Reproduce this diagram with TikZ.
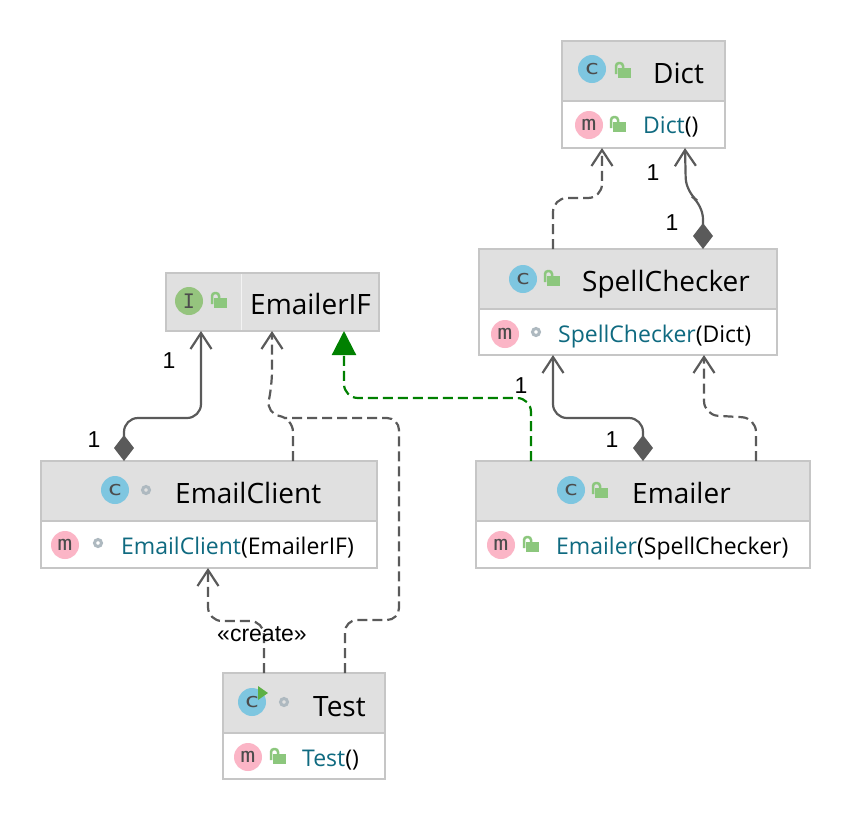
\documentclass[tikz,border=0pt]{standalone}
\usepackage{fontspec}
\usepackage{graphicx}
\setmainfont{Open Sans}
\newfontfamily\labelfont{Liberation Sans}
\newfontfamily\iconfont{DejaVu Sans Mono}
\usetikzlibrary{arrows.meta}
\definecolor{headgray}{HTML}{E0E0E0}
\definecolor{bordergray}{HTML}{C6C6C6}
\definecolor{linegray}{HTML}{5A5A5A}
\definecolor{methodteal}{HTML}{0F6A80}
\definecolor{iconblue}{HTML}{7EC6E0}
\definecolor{iconpink}{HTML}{FBB5C6}
\definecolor{icongreen}{HTML}{95C47E}
\definecolor{lockgreen}{HTML}{8CC77D}
\definecolor{ringgray}{HTML}{AEB9C0}
\definecolor{playgreen}{HTML}{5DB044}
\newcommand{\wideletter}[1]{\scalebox{1.25}[1]{#1}}
\tikzset{
  headbox/.style={draw=bordergray, line width=1.5pt, fill=headgray, anchor=north west, inner sep=0pt, outer sep=0pt},
  membox/.style={draw=bordergray, line width=1.5pt, fill=white, anchor=north west, inner sep=0pt, outer sep=0pt},
  title/.style={anchor=base west, inner sep=0pt, font=\fontsize{28}{30}\selectfont},
  method/.style={anchor=base west, inner sep=0pt, font=\fontsize{23}{26}\selectfont},
  tag/.style={inner sep=0pt, font=\labelfont\fontsize{23}{26}\selectfont},
  iconc/.style={circle, fill=iconblue, minimum size=28pt, inner sep=0pt, text=black!70, font=\iconfont\fontsize{20}{20}\selectfont},
  iconm/.style={iconc, fill=iconpink},
  iconi/.style={iconc, fill=icongreen},
  assoc/.style={linegray, line width=2.2pt, rounded corners=14pt, {Diamond[length=26pt,width=20pt]}-{Straight Barb[length=16pt,width=21pt,line width=2.2pt]}},
  dep/.style={linegray, line width=2.2pt, dash pattern=on 10pt off 5pt, rounded corners=14pt, -{Straight Barb[length=16pt,width=21pt,line width=2.2pt]}},
  impl/.style={green!50!black, line width=2.2pt, dash pattern=on 10pt off 5pt, rounded corners=14pt, -{Triangle[length=24pt,width=24pt]}},
  openlock/.pic={
    \fill[lockgreen] (-6,-3) rectangle (7,7);
    \draw[lockgreen, line width=2.5pt, rounded corners=3pt] (-8,3) -- (-8,-8) -- (-1,-8) -- (-1,-3);
  },
  pkgring/.pic={
    \draw[ringgray, line width=3pt] (0,0) circle (3.5pt);
  },
}
\begin{document}
\begin{tikzpicture}[x=1pt, y=-1pt]
    \useasboundingbox (0,0) rectangle (852,820);

    \node[headbox, minimum width=163pt, minimum height=60pt] (dict) at (562,41) {};
    \node[membox, minimum width=163pt, minimum height=47pt] (dictm) at (562,101) {};
    \node[headbox, minimum width=213pt, minimum height=58pt] (emailerif) at (166,273) {};
    \node[headbox, minimum width=298pt, minimum height=60pt] (spell) at (479,249) {};
    \node[membox, minimum width=298pt, minimum height=46pt] (spellm) at (479,309) {};
    \node[headbox, minimum width=336pt, minimum height=60pt] (client) at (41,461) {};
    \node[membox, minimum width=336pt, minimum height=47pt] (clientm) at (41,521) {};
    \node[headbox, minimum width=334pt, minimum height=60pt] (emailer) at (476,461) {};
    \node[membox, minimum width=334pt, minimum height=47pt] (emailerm) at (476,521) {};
    \node[headbox, minimum width=162pt, minimum height=60pt] (test) at (223,673) {};
    \node[membox, minimum width=162pt, minimum height=46pt] (testm) at (223,733) {};
    \draw[white!60!headgray, line width=0.8pt] (241,274) -- (241,330);

    \node[iconc] (dictc) at (592,69) {\wideletter{c}};
    \pic at (624,71) {openlock};
    \node[title] (dictt) at (653,83) {Dict};
    \node[iconm] (dictmi) at (589,125) {\wideletter{m}};
    \pic at (619,125) {openlock};
    \node[method] (dictmt) at (643,133) {\textcolor{methodteal}{Dict}()};

    \node[iconi] (ifc) at (189,301) {I};
    \pic at (220,301) {openlock};
    \node[title] (ift) at (250,314) {EmailerIF};

    \node[iconc] (spellc) at (523,279) {\wideletter{c}};
    \pic at (553,279) {openlock};
    \node[title] (spellt) at (582,291) {SpellChecker};
    \node[iconm] (spellmi) at (505,334) {\wideletter{m}};
    \pic at (536,332) {pkgring};
    \node[method] (spellmt) at (558,342) {\textcolor{methodteal}{SpellChecker}(Dict)};

    \node[iconc] (clientc) at (115,490) {\wideletter{c}};
    \pic at (146,490) {pkgring};
    \node[title] (clientt) at (175,503) {EmailClient};
    \node[iconm] (clientmi) at (65,545) {\wideletter{m}};
    \pic at (98,543) {pkgring};
    \node[method] (clientmt) at (121,554) {\textcolor{methodteal}{EmailClient}(EmailerIF)};

    \node[iconc] (emailerc) at (571,490) {\wideletter{c}};
    \pic at (601,491) {openlock};
    \node[title] (emailert) at (632,503) {Emailer};
    \node[iconm] (emailermi) at (501,545) {\wideletter{m}};
    \pic at (532,545) {openlock};
    \node[method] (emailermt) at (556,554) {\textcolor{methodteal}{Emailer}(SpellChecker)};

    \node[iconc] (testc) at (252,702) {\wideletter{c}};
    \fill[playgreen] (258,686) -- (268,693) -- (258,700) -- cycle;
    \pic at (284,702) {pkgring};
    \node[title] (testt) at (313,716) {Test};
    \node[iconm] (testmi) at (248,757) {\wideletter{m}};
    \pic at (279,757) {openlock};
    \node[method] (testmt) at (302,766) {\textcolor{methodteal}{Test}()};

    \draw[dep] ([xshift=74pt]spell.north west) -- (553,198) -- (602,198) -- ([xshift=40pt]dictm.south west);
    \draw[assoc] ([xshift=141pt]dict.south west |- spell.north) -- (703,205) -- (686,192) -- ([xshift=123pt]dictm.south west);
    \draw[assoc] ([xshift=83pt]client.north west) -- (124,418) -- (201,418) -- ([xshift=35pt]emailerif.south west);
    \draw[dep] ([xshift=252pt]client.north west) -- (293,418) -- (266,414) -- (272,385) -- ([xshift=106pt]emailerif.south west);
    \draw[dep, -, rounded corners=12pt] ([xshift=122pt]test.north west) -- (345,620) -- (399,620) -- (399,418) -- (285,418);
    \draw[dep] ([xshift=41pt]test.north west) -- (264,621) -- (208,621) -- ([xshift=167pt]clientm.south west);
    \draw[impl] ([xshift=55pt]emailer.north west) -- (531,398) -- (344,398) -- ([xshift=178pt]emailerif.south west);
    \draw[assoc] ([xshift=167pt]emailer.north west) -- (643,418) -- (553,418) -- ([xshift=74pt]spellm.south west);
    \draw[dep] ([xshift=280pt]emailer.north west) -- (756,418) -- (704,415) -- ([xshift=225pt]spellm.south west);

    \node[tag] (d1) at (653,173) {1};
    \node[tag] (d2) at (672,223) {1};
    \node[tag] (i1) at (169,361) {1};
    \node[tag] (c1) at (94,440) {1};
    \node[tag] (e1) at (521,386) {1};
    \node[tag] (s1) at (612,440) {1};
    \node[tag] (cr) at (262,634) {«create»};
\end{tikzpicture}
\end{document}
